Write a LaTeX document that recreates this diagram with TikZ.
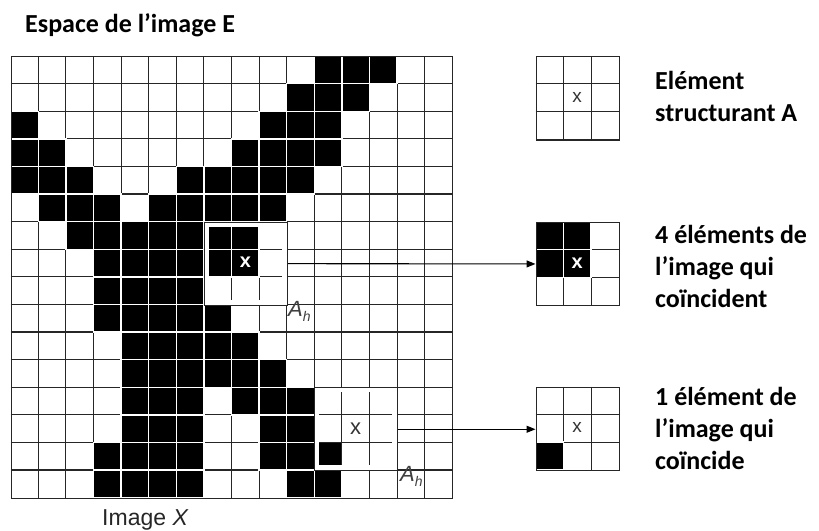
\documentclass[tikz,border=0pt]{standalone}
\usepackage{fontspec}
\setmainfont{Liberation Sans}
\newfontfamily\calib{Carlito}
\usetikzlibrary{arrows.meta}
\newcommand\bcell[2]{\path[blk] (10.7+#2*27.6, 56+#1*27.6) rectangle ++(27.6,27.6);}
\newcommand\scell[3]{\path[blk] (#1+#2*27.8, #3) rectangle ++(27.8,27.8);}
\begin{document}
\begin{tikzpicture}[x=1pt,y=-1pt,
  gridline/.style={draw=black!85, line width=1.1pt},
  blk/.style={fill=black, draw=white, line width=1.4pt},
  frame/.style={draw=black!85, line width=1.1pt, inner sep=0pt, anchor=north west},
  lbl/.style={font=\calib\bfseries\fontsize{26}{32}\selectfont, anchor=base west, align=left, inner sep=0pt},
  crossg/.style={font=\fontsize{19}{19}\selectfont, text=black!80, inner sep=0pt},
  crossw/.style={font=\bfseries\fontsize{20}{20}\selectfont, text=white, inner sep=0pt},
  ah/.style={font=\itshape\fontsize{22}{22}\selectfont, text=black!75, anchor=base west, inner sep=0pt},
  arr/.style={draw=black, line width=1.1pt, -{Triangle[length=9pt,width=7pt]}}
]
\useasboundingbox (0,0) rectangle (819,530);
% title
\node[lbl] (title) at (25,32) {Espace de l’image E};
% main grid lines
\foreach \i in {1,...,15} {
  \draw[gridline] (10.7+\i*27.6,56) -- (10.7+\i*27.6,497.6);
  \draw[gridline] (10.7,56+\i*27.6) -- (452.3,56+\i*27.6);
}
% black cells
\foreach \c in {11,12,13} {\bcell{0}{\c}}
\foreach \c in {10,11,12} {\bcell{1}{\c}}
\foreach \c in {0,9,10,11} {\bcell{2}{\c}}
\foreach \c in {0,1,8,9,10,11} {\bcell{3}{\c}}
\foreach \c in {0,1,2,6,7,8,9,10} {\bcell{4}{\c}}
\foreach \c in {1,2,3,5,6,7,8,9} {\bcell{5}{\c}}
\foreach \c in {2,3,4,5,6,7,8} {\bcell{6}{\c}}
\foreach \c in {3,4,5,6,7,8} {\bcell{7}{\c}}
\foreach \c in {3,4,5,6} {\bcell{8}{\c}}
\foreach \c in {3,4,5,6,7} {\bcell{9}{\c}}
\foreach \c in {4,5,6,7,8} {\bcell{10}{\c}}
\foreach \c in {4,5,6,7,8,9} {\bcell{11}{\c}}
\foreach \c in {4,5,6,8,9,10} {\bcell{12}{\c}}
\foreach \c in {4,5,6,9,10} {\bcell{13}{\c}}
\foreach \c in {3,4,5,6,9,10,11} {\bcell{14}{\c}}
\foreach \c in {3,4,5,6,10,11} {\bcell{15}{\c}}
\node[frame, minimum size=441.6pt] (imgX) at (10.7,56) {};
% window 1 (c7-c9, r6-r8)
\draw[white, line width=5pt] (204.1+2.5,221.7+2.5) rectangle (286.9-2.5,304.5-2.5);
\node[frame, minimum size=82.8pt] (box1) at (204.1,221.7) {};
\node[crossw] (x1) at (245.5,262.5) {x};
\node[ah] (ah1) at (288,316.5) {A\raisebox{-5pt}{\fontsize{14}{14}\selectfont h}};
% window 2 (c11-c13, r12-r14)
\draw[white, line width=5pt] (314.3+2.5,387.3+2.5) rectangle (397.1-2.5,470.1-2.5);
\foreach \k in {1,2} {
  \draw[gridline] (314.3+\k*27.6,387.3+5) -- (314.3+\k*27.6,470.1-5);
  \draw[gridline] (314.3+5,387.3+\k*27.6) -- (397.1-5,387.3+\k*27.6);
}
\path[fill=black] (314.3+5,442.5+3) rectangle (341.9-3,470.1-5);
\node[frame, minimum size=82.8pt] (box2) at (314.3,387.3) {};
\node[crossg, font=\fontsize{22}{22}\selectfont] (x2) at (355.7,428.2) {x};
\node[ah] (ah2) at (400,481) {A\raisebox{-5pt}{\fontsize{14}{14}\selectfont h}};
% label under the image
\node[font=\fontsize{23}{23}\selectfont, anchor=base west, inner sep=0pt, text=black!85] (lblX) at (102,525) {Image \textit{X}};
% structuring element (top right)
\foreach \k in {1,2} {
  \draw[gridline] (535.5+\k*27.8,56) -- ++(0,83.4);
  \draw[gridline] (535.5,56+\k*27.8) -- ++(83.4,0);
}
\node[frame, minimum size=83.4pt] (g1) at (535.5,56) {};
\node[crossg] (x3) at (577.2,97.2) {x};
\node[lbl] (t1) at (655,121) {Elément\\structurant A};
% middle right grid
\foreach \k in {1,2} {
  \draw[gridline] (535.5+\k*27.8,221.7) -- ++(0,83.4);
  \draw[gridline] (535.5,221.7+\k*27.8) -- ++(83.4,0);
}
\scell{535.5}{0}{221.7}\scell{535.5}{1}{221.7}
\scell{535.5}{0}{249.5}\scell{535.5}{1}{249.5}
\node[frame, minimum size=83.4pt] (g2) at (535.5,221.7) {};
\node[crossw] (x4) at (577.2,262.8) {x};
\node[lbl] (t2) at (655,307) {4 éléments de\\l’image qui\\coïncident};
% bottom right grid
\foreach \k in {1,2} {
  \draw[gridline] (535.5+\k*27.8,386.5) -- ++(0,83.4);
  \draw[gridline] (535.5,386.5+\k*27.8) -- ++(83.4,0);
}
\scell{535.5}{0}{442.1}
\node[frame, minimum size=83.4pt] (g3) at (535.5,386.5) {};
\node[crossg] (x5) at (577.2,427.6) {x};
\node[lbl] (t3) at (655,469) {1 élément de\\l’image qui\\coïncide};
% arrows
\draw[arr] (box1.east) -- (g2.west);
\draw[arr] (box2.east) -- (box2.east -| g3.west);
\end{tikzpicture}
\end{document}
